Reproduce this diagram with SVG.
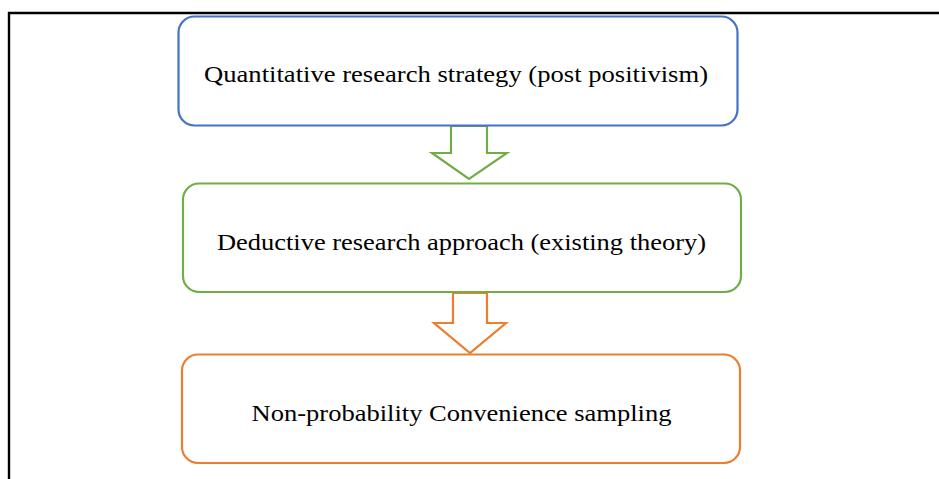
<svg xmlns="http://www.w3.org/2000/svg" width="939" height="479" viewBox="0 0 939 479">
  <style>
    .box { fill: #ffffff; stroke-width: 2.2; }
    .arrow { fill: #ffffff; stroke-width: 2.2; stroke-linejoin: miter; }
    .label { font-family: "Liberation Serif", "DejaVu Serif", serif; font-size: 24px; fill: #000000; text-anchor: middle; }
    .blue { stroke: #4472C4; }
    .green { stroke: #70AD47; }
    .orange { stroke: #ED7D31; }
  </style>
  <rect width="939" height="479" fill="#ffffff"/>
  <!-- page frame: top and left rules -->
  <path d="M9,479 V13 H939" fill="none" stroke="#000000" stroke-width="2.4"/>

  <g id="connectors">
    <polygon class="arrow green" points="451,126 487,126 487,153 507,153 469,179 432,153 451,153"/>
    <polygon class="arrow orange" points="453,293 487,293 487,323 506,323 470,353 434,323 453,323"/>
  </g>

  <g id="node-strategy">
    <rect class="box blue" x="178.5" y="16.5" width="559" height="109" rx="16" ry="16"/>
    <text class="label" x="456" y="82" textLength="504" lengthAdjust="spacingAndGlyphs">Quantitative research strategy (post positivism)</text>
  </g>

  <g id="node-approach">
    <rect class="box green" x="183" y="183.5" width="558" height="108.5" rx="16" ry="16"/>
    <text class="label" x="461.5" y="250" textLength="489" lengthAdjust="spacingAndGlyphs">Deductive research approach (existing theory)</text>
  </g>

  <g id="node-sampling">
    <rect class="box orange" x="182" y="354.5" width="558" height="108.5" rx="16" ry="16"/>
    <text class="label" x="461.5" y="421" textLength="420" lengthAdjust="spacingAndGlyphs">Non-probability Convenience sampling</text>
  </g>
</svg>
